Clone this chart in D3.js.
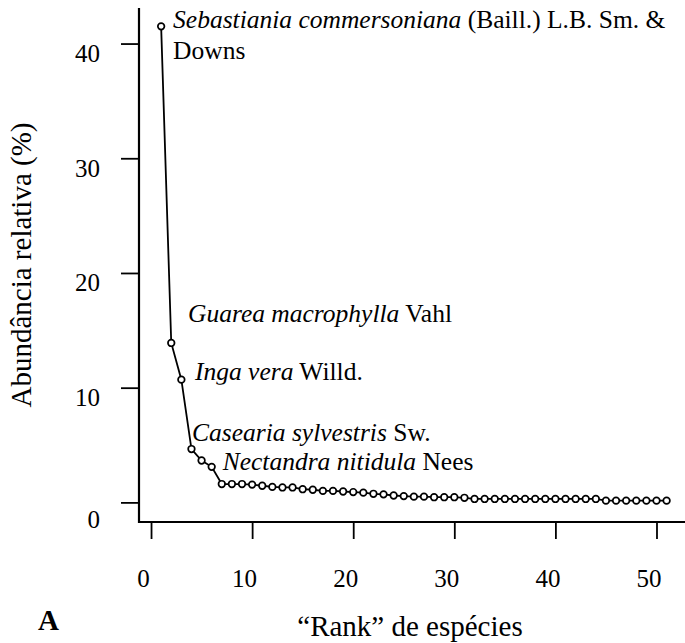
<!DOCTYPE html>
<html><head><meta charset="utf-8">
<script src="https://cdn.jsdelivr.net/npm/d3@7"></script>
<style>
body{margin:0;background:#fff}
</style>
</head><body>
<svg id="chart" width="685" height="643"></svg>
<script>
// ---- data ----
const abundance = [41.5, 13.9, 10.7, 4.65, 3.65, 3.1, 1.6, 1.6, 1.6, 1.55,
  1.45, 1.35, 1.3, 1.3, 1.15, 1.1, 1.0, 1.0, 0.95, 0.9,
  0.85, 0.75, 0.7, 0.6, 0.55, 0.5, 0.5, 0.45, 0.45, 0.45,
  0.4, 0.3, 0.3, 0.3, 0.3, 0.3, 0.3, 0.3, 0.3, 0.3,
  0.3, 0.3, 0.3, 0.3, 0.15, 0.15, 0.15, 0.15, 0.15, 0.15, 0.15];
const xTicks = [0, 10, 20, 30, 40, 50];
const yTicks = [0, 10, 20, 30, 40];
const speciesItalic = ["Sebastiania commersoniana", "Guarea macrophylla", "Inga vera", "Casearia sylvestris", "Nectandra nitidula"];
const speciesAuthor = [" (Baill.) L.B. Sm. &", " Vahl", " Willd.", " Sw.", " Nees"];
const speciesAuthor2 = ["Downs", "", "", "", ""];
const xLabel = "\u201CRank\u201D de espécies";
const yLabel = "Abundância relativa (%)";
const panelLabel = "A";

// ---- layout ----
const FONT = "'Liberation Serif', 'Times New Roman', serif";
const mLeft = 139, mRight = 685, mTop = 8, mBottom = 522;
const svg = d3.select("#chart").style("font-family", FONT);
const x = d3.scaleLinear().domain([-1.19, 52.82]).range([mLeft, mRight]);
const y = d3.scaleLinear().domain([-1.71, 43.1]).range([mBottom, mTop]);
// annotation anchors in data units (like R text())
const annX = [2.18, 3.66, 4.35, 4.06, 7.09];
const annY = [41.35, 15.7, 10.67, 5.34, 2.82];
const annY2 = [38.65];
const fsAnn = 25.5, fsTick = 25, fsTitle = 29;

const data = abundance.map((v, i) => ({rank: i + 1, v}));

// clip for the partly hidden third label (its descenders are cut in the original)
svg.append("defs").append("clipPath").attr("id", "cut3")
  .append("rect").attr("x", 0).attr("y", 0).attr("width", 685).attr("height", y(10.25));

// axes
const xAxis = d3.axisBottom(x).tickValues(xTicks).tickSize(17).tickSizeOuter(0).tickPadding(30);
const gx = svg.append("g").attr("transform", `translate(0,${mBottom})`).call(xAxis)
  .attr("font-family", null).style("font-family", FONT);
gx.select(".domain").remove();
gx.selectAll(".tick line").attr("stroke", "#000").attr("stroke-width", 1.8);
gx.selectAll(".tick text").attr("font-size", fsTick).style("font-family", FONT)
  .attr("fill", "#000").attr("dx", -8);

const yAxis = d3.axisLeft(y).tickValues(yTicks).tickSize(18).tickSizeOuter(0).tickPadding(21);
const gy = svg.append("g").attr("transform", `translate(${mLeft},0)`).call(yAxis)
  .attr("font-family", null).style("font-family", FONT);
gy.select(".domain").remove();
gy.selectAll(".tick line").attr("stroke", "#000").attr("stroke-width", 1.8);
gy.selectAll(".tick text").attr("font-size", fsTick).style("font-family", FONT)
  .attr("fill", "#000").attr("dy", d => d === 0 ? "1.0em" : "0.72em");

// L-shaped frame
svg.append("path")
  .attr("d", `M${mLeft},${mTop}V${mBottom}H${mRight}`)
  .attr("fill", "none").attr("stroke", "#000").attr("stroke-width", 2.2);

// line + points
svg.append("path").datum(data)
  .attr("d", d3.line().x(d => x(d.rank)).y(d => y(d.v)))
  .attr("fill", "none").attr("stroke", "#000").attr("stroke-width", 1.8);
svg.append("g").selectAll("circle").data(data).join("circle")
  .attr("cx", d => x(d.rank)).attr("cy", d => y(d.v)).attr("r", 3.3)
  .attr("fill", "#fff").attr("stroke", "#000").attr("stroke-width", 1.7);

// annotations
speciesItalic.forEach((name, i) => {
  const t = svg.append("text").attr("x", x(annX[i])).attr("y", y(annY[i]))
    .attr("font-size", fsAnn).style("font-family", FONT);
  if (i === 2) t.attr("clip-path", "url(#cut3)");
  t.append("tspan").attr("font-style", "italic").text(name);
  t.append("tspan").text(speciesAuthor[i]);
  if (speciesAuthor2[i]) {
    svg.append("text").attr("x", x(annX[i])).attr("y", y(annY2[i]))
      .attr("font-size", fsAnn).style("font-family", FONT).text(speciesAuthor2[i]);
  }
});

// axis titles
svg.append("text").attr("x", (mLeft + mRight) / 2 - 2).attr("y", 636)
  .attr("text-anchor", "middle").attr("font-size", fsTitle).style("font-family", FONT).text(xLabel);
svg.append("text").attr("transform", `translate(31,${(mTop + mBottom) / 2}) rotate(-90)`)
  .attr("text-anchor", "middle").attr("font-size", fsTitle).style("font-family", FONT).text(yLabel);
svg.append("text").attr("x", 38).attr("y", 630).attr("font-size", fsTitle)
  .attr("font-weight", "bold").style("font-family", FONT).text(panelLabel);
</script>
</body></html>
